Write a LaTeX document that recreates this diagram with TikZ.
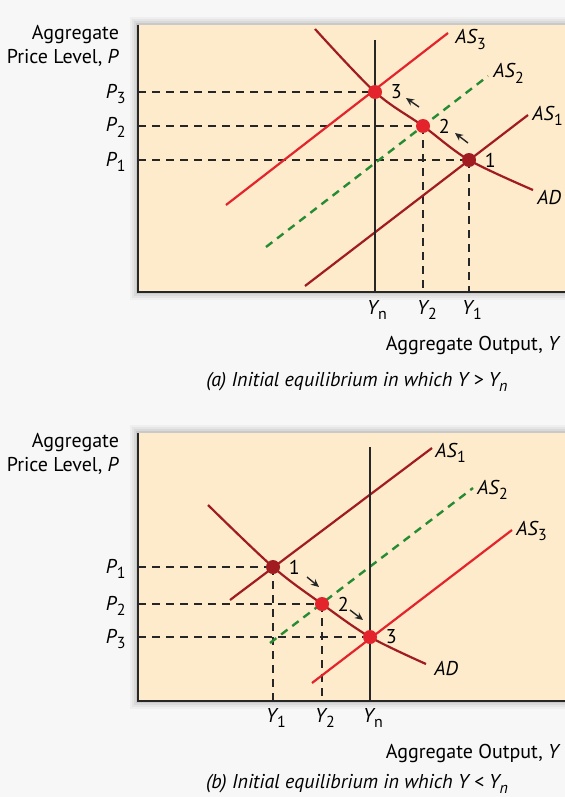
\documentclass[tikz,border=0pt]{standalone}
\usepackage{fontspec}
\setmainfont{PT Sans}
\usetikzlibrary{positioning,backgrounds,arrows.meta}
\definecolor{panelbg}{RGB}{253,235,203}
\definecolor{darkred}{RGB}{160,28,32}
\definecolor{brightred}{RGB}{228,36,44}
\definecolor{greenline}{RGB}{38,140,52}
\newcommand{\lbl}[2]{{\itshape #1}\kern0.02em\raisebox{-0.55ex}{\footnotesize #2}}

\begin{document}
\begin{tikzpicture}[
  x=0.5pt, y=-0.5pt,
  font=\fontsize{10}{12}\selectfont,
  panel/.style={fill=panelbg},
  axisline/.style={draw=black!85, line width=1.4pt},
  natural/.style={draw=black!85, line width=1.1pt},
  guide/.style={draw=black!85, line width=0.75pt, dash pattern=on 4pt off 3pt},
  asdark/.style={draw=darkred, line width=1.1pt},
  asred/.style={draw=brightred, line width=1.1pt},
  asdash/.style={draw=greenline, line width=1.2pt, dash pattern=on 4pt off 3pt},
  eqdark/.style={circle, fill=darkred, minimum size=7pt, inner sep=0pt},
  eqred/.style={eqdark, fill=brightred},
  stepnum/.style={inner sep=0pt},
  steparrow/.style={draw=black!85, line width=0.7pt, -{Stealth[length=4pt,width=3.6pt]}},
  curvelabel/.style={anchor=base west, inner sep=0pt},
  ticklabel/.style={anchor=base, inner sep=0pt},
  caption/.style={anchor=base, inner sep=0pt, font=\fontsize{10}{12}\selectfont\itshape}
]
  \useasboundingbox (0,0) rectangle (565,797);

  % ---- panel (a): Y > Yn ----
  \coordinate (aO) at (138,292);
  \coordinate (aTL) at (138,25);
  \coordinate (aBR) at (565,292);

  \node[eqdark] (a1) at (469,160) {};
  \node[eqred] (a2) at (423,126) {};
  \node[eqred] (a3) at (375,92) {};

  \coordinate (aP1) at (138,160);
  \coordinate (aP2) at (138,126);
  \coordinate (aP3) at (138,92);
  \coordinate (aY1) at (469,292);
  \coordinate (aY2) at (423,292);
  \coordinate (aYn) at (375,292);
  \coordinate (aYtop) at (375,40);

  \coordinate (aAD0) at (315,29);
  \coordinate (aAD1) at (533,190);
  \coordinate (aAS10) at (305,286);
  \coordinate (aAS11) at (528,115);
  \coordinate (aAS20) at (266,247);
  \coordinate (aAS21) at (488,76);
  \coordinate (aAS30) at (226,205);
  \coordinate (aAS31) at (448,33);

  \begin{scope}[on background layer]
    \fill[black!3] (0,0) rectangle (565,797);
    \foreach \s/\o in {8/0.03,6/0.04,4/0.05,2/0.07}
      \fill[black, opacity=\o] (138-\s,25-\s) rectangle (565,292+\s);
    \fill[panel] (aTL) rectangle (aBR);
    \foreach \k in {1,2,3}
      \draw[guide] (aP\k) -- (a\k.center);
    \foreach \k in {1,2}
      \draw[guide] (a\k.center) -- (aY\k);
    \draw[asred] (aAS30) -- (aAS31);
    \draw[asdash] (aAS20) -- (aAS21);
    \draw[asdark] (aAS10) -- (aAS11);
    \draw[asdark] plot[smooth, tension=0.55] coordinates {(aAD0) (a3) (a2) (a1) (aAD1)};
    \draw[natural] (aYtop) -- (aYn);
  \end{scope}
  \draw[axisline] (aTL) -- (aO) -- (aBR);

  \node[stepnum] (a1n) [right=4pt of a1] {1};
  \node[stepnum] (a2n) [right=4pt of a2] {2};
  \node[stepnum] (a3n) [right=4pt of a3] {3};
  \coordinate (aS1) at (468,143);
  \coordinate (aS1e) at (455,133);
  \coordinate (aS2) at (419,107);
  \coordinate (aS2e) at (406,98);
  \draw[steparrow] (aS1) -- (aS1e);
  \draw[steparrow] (aS2) -- (aS2e);

  \node[curvelabel] (aAS3lab) at (455,44) {\lbl{AS}{3}};
  \node[curvelabel] (aAS2lab) at (493,78) {\lbl{AS}{2}};
  \node[curvelabel] (aAS1lab) at (532,120) {\lbl{AS}{1}};
  \node[curvelabel] (aADlab) at (537,204) {\textit{AD}};

  \node[anchor=east, align=right] (aPaxis) at (126,46) {Aggregate\\Price Level, \textit{P}};
  \node[anchor=base east, inner sep=0pt] (aP1lab) at (126,166) {\lbl{P}{1}};
  \node[anchor=base east, inner sep=0pt] (aP2lab) at (126,132) {\lbl{P}{2}};
  \node[anchor=base east, inner sep=0pt] (aP3lab) at (126,98) {\lbl{P}{3}};
  \node[ticklabel] (aYnlab) at (377,314) {\lbl{Y}{n}};
  \node[ticklabel] (aY2lab) at (427,314) {\lbl{Y}{2}};
  \node[ticklabel] (aY1lab) at (472,314) {\lbl{Y}{1}};
  \node[anchor=base east, inner sep=0pt] (aYaxis) at (561,350) {Aggregate Output, \textit{Y}};
  \node[caption] (acap) at (357,386)
    {(a) Initial equilibrium in which Y > Y\raisebox{-0.5ex}{\footnotesize n}};

  % ---- panel (b): Y < Yn ----
  \coordinate (bO) at (138,701);
  \coordinate (bTL) at (138,433);
  \coordinate (bBR) at (565,701);

  \node[eqdark] (b1) at (273,567) {};
  \node[eqred] (b2) at (322,604) {};
  \node[eqred] (b3) at (370,637) {};

  \coordinate (bP1) at (138,567);
  \coordinate (bP2) at (138,604);
  \coordinate (bP3) at (138,637);
  \coordinate (bY1) at (273,701);
  \coordinate (bY2) at (322,701);
  \coordinate (bYn) at (370,701);
  \coordinate (bYtop) at (370,447);

  \coordinate (bAD0) at (208,505);
  \coordinate (bAD1) at (426,664);
  \coordinate (bAS10) at (230,600);
  \coordinate (bAS11) at (432,448);
  \coordinate (bAS20) at (270,643);
  \coordinate (bAS21) at (473,488);
  \coordinate (bAS30) at (312,683);
  \coordinate (bAS31) at (512,530);

  \begin{scope}[on background layer]
    \foreach \s/\o in {8/0.03,6/0.04,4/0.05,2/0.07}
      \fill[black, opacity=\o] (138-\s,433-\s) rectangle (565,701+\s);
    \fill[panel] (bTL) rectangle (bBR);
    \foreach \k in {1,2,3}
      \draw[guide] (bP\k) -- (b\k.center);
    \foreach \k in {1,2}
      \draw[guide] (b\k.center) -- (bY\k);
    \draw[asdark] (bAS10) -- (bAS11);
    \draw[asdash] (bAS20) -- (bAS21);
    \draw[asred] (bAS30) -- (bAS31);
    \draw[asdark] plot[smooth, tension=0.55] coordinates {(bAD0) (b1) (b2) (b3) (bAD1)};
    \draw[natural] (bYtop) -- (bYn);
  \end{scope}
  \draw[axisline] (bTL) -- (bO) -- (bBR);

  \node[stepnum] (b1n) [right=4pt of b1] {1};
  \node[stepnum] (b2n) [right=4pt of b2] {2};
  \node[stepnum] (b3n) [right=4pt of b3] {3};
  \coordinate (bS1) at (307,577);
  \coordinate (bS1e) at (319,587);
  \coordinate (bS2) at (350,610);
  \coordinate (bS2e) at (363,620);
  \draw[steparrow] (bS1) -- (bS1e);
  \draw[steparrow] (bS2) -- (bS2e);

  \node[curvelabel] (bAS1lab) at (435,457) {\lbl{AS}{1}};
  \node[curvelabel] (bAS2lab) at (477,494) {\lbl{AS}{2}};
  \node[curvelabel] (bAS3lab) at (516,535) {\lbl{AS}{3}};
  \node[curvelabel] (bADlab) at (434,675) {\textit{AD}};

  \node[anchor=east, align=right] (bPaxis) at (126,454) {Aggregate\\Price Level, \textit{P}};
  \node[anchor=base east, inner sep=0pt] (bP1lab) at (126,573) {\lbl{P}{1}};
  \node[anchor=base east, inner sep=0pt] (bP2lab) at (126,610) {\lbl{P}{2}};
  \node[anchor=base east, inner sep=0pt] (bP3lab) at (126,643) {\lbl{P}{3}};
  \node[ticklabel] (bY1lab) at (276,722) {\lbl{Y}{1}};
  \node[ticklabel] (bY2lab) at (325,722) {\lbl{Y}{2}};
  \node[ticklabel] (bYnlab) at (373,722) {\lbl{Y}{n}};
  \node[anchor=base east, inner sep=0pt] (bYaxis) at (561,758) {Aggregate Output, \textit{Y}};
  \node[caption] (bcap) at (357,788)
    {(b) Initial equilibrium in which Y < Y\raisebox{-0.5ex}{\footnotesize n}};
\end{tikzpicture}
\end{document}
